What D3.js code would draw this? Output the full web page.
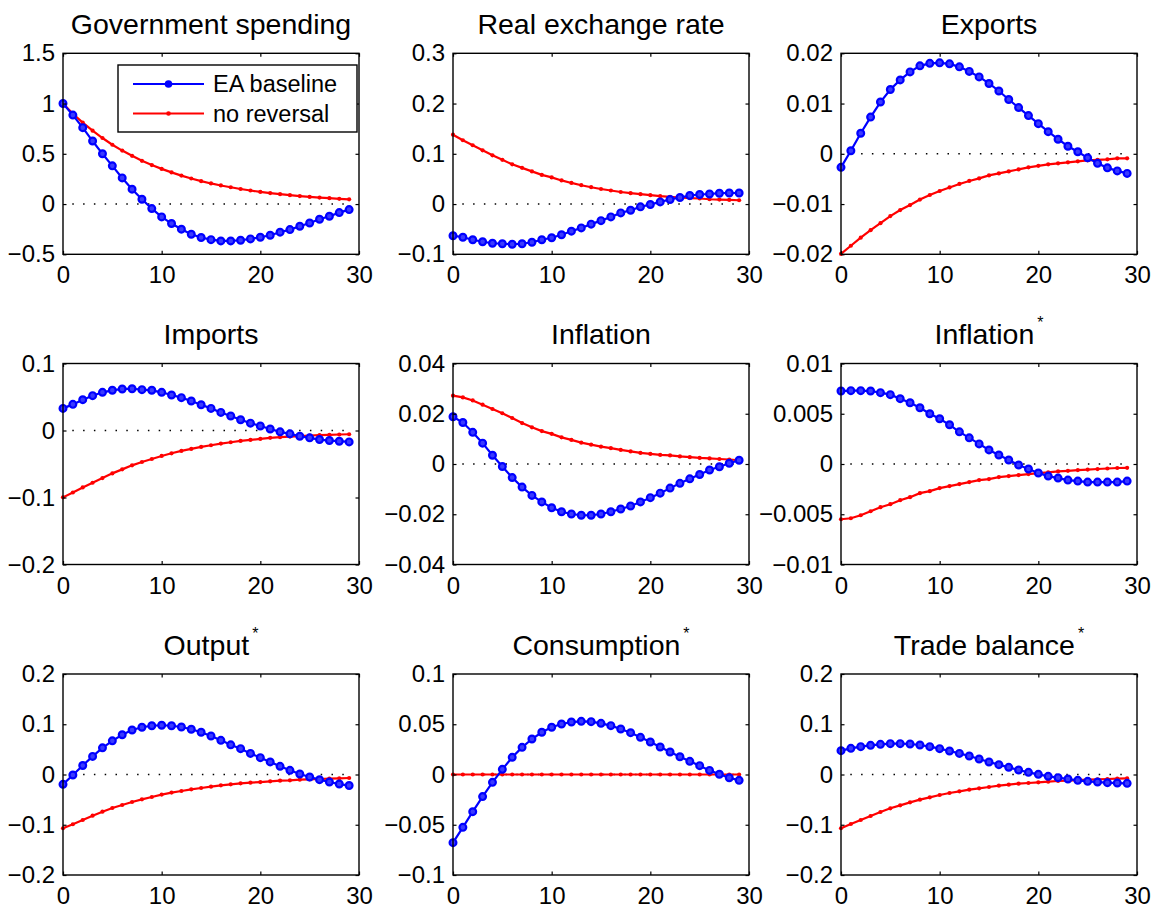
<!DOCTYPE html>
<html>
<head>
<meta charset="utf-8">
<script src="https://cdn.jsdelivr.net/npm/d3@7"></script>
<style>
  html, body { margin: 0; padding: 0; background: #fff; }
  svg { display: block; }
  text { font-family: "Liberation Sans", Arial, Helvetica, sans-serif; fill: #000; }
</style>
</head>
<body>
<svg id="chart" width="1156" height="910"></svg>
<script>
// Quarters after the shock
const periods = [0,1,2,3,4,5,6,7,8,9,10,11,12,13,14,15,16,17,18,19,20,21,22,23,24,25,26,27,28,29];
const xTicks = [0, 10, 20, 30];

const seriesNames = ["EA baseline", "no reversal"];

// Government spending
const govBaseline = [1.0,0.885,0.76,0.627,0.5,0.38,0.26,0.148,0.048,-0.045,-0.128,-0.194,-0.25,-0.30,-0.333,-0.354,-0.367,-0.367,-0.36,-0.347,-0.33,-0.31,-0.28,-0.254,-0.221,-0.188,-0.151,-0.121,-0.085,-0.055];
const govNoReversal = [1.0,0.898,0.81,0.73,0.657,0.59,0.532,0.48,0.43,0.388,0.35,0.315,0.283,0.254,0.228,0.205,0.185,0.167,0.15,0.135,0.121,0.109,0.098,0.088,0.079,0.071,0.064,0.058,0.052,0.047];
// Real exchange rate
const rerBaseline = [-0.063,-0.066,-0.071,-0.075,-0.078,-0.079,-0.080,-0.079,-0.076,-0.071,-0.067,-0.061,-0.054,-0.0475,-0.040,-0.033,-0.0256,-0.0176,-0.0123,-0.0056,-0.001,0.0043,0.009,0.013,0.017,0.019,0.020,0.0216,0.022,0.022];
const rerNoReversal = [0.138,0.127,0.117,0.107,0.097,0.088,0.079,0.072,0.065,0.058,0.053,0.047,0.042,0.0375,0.0335,0.030,0.027,0.024,0.0216,0.0196,0.0176,0.0156,0.0143,0.013,0.0116,0.011,0.0096,0.009,0.0083,0.0076];
// Exports
const expBaseline = [-0.0027,0.0006,0.0041,0.0073,0.0103,0.0128,0.0147,0.0163,0.0175,0.018,0.0181,0.0179,0.0173,0.0164,0.0153,0.014,0.0125,0.0108,0.0092,0.0076,0.006,0.0044,0.0029,0.0015,0.0004,-0.0008,-0.0019,-0.0028,-0.0034,-0.0039];
const expNoReversal = [-0.0199,-0.0183,-0.0167,-0.0152,-0.0138,-0.0124,-0.0112,-0.0102,-0.0091,-0.0082,-0.0074,-0.0067,-0.006,-0.0054,-0.0049,-0.0043,-0.0039,-0.0035,-0.0031,-0.0027,-0.0024,-0.0021,-0.0019,-0.0017,-0.0015,-0.0013,-0.0012,-0.0011,-0.0009,-0.0009];
// Imports
const impBaseline = [0.033,0.039,0.046,0.052,0.057,0.06,0.062,0.0623,0.061,0.06,0.057,0.053,0.049,0.044,0.0385,0.033,0.027,0.0216,0.016,0.011,0.0068,0.0023,-0.002,-0.005,-0.0086,-0.011,-0.0135,-0.015,-0.016,-0.017];
const impNoReversal = [-0.0998,-0.0925,-0.085,-0.078,-0.071,-0.064,-0.058,-0.052,-0.047,-0.0425,-0.038,-0.034,-0.0305,-0.0275,-0.0245,-0.022,-0.0195,-0.0175,-0.0155,-0.014,-0.0125,-0.011,-0.010,-0.009,-0.0085,-0.0075,-0.007,-0.0065,-0.006,-0.0056];
// Inflation
const infBaseline = [0.0188,0.0165,0.0126,0.0083,0.0035,-0.001,-0.0054,-0.0092,-0.0125,-0.0151,-0.0174,-0.019,-0.0199,-0.0204,-0.0204,-0.0199,-0.019,-0.0179,-0.0167,-0.0151,-0.0134,-0.0116,-0.0096,-0.0077,-0.0059,-0.0042,-0.0024,-0.0011,0.0003,0.0015];
const infNoReversal = [0.0272,0.0265,0.0253,0.0236,0.0219,0.0202,0.0183,0.0163,0.0146,0.0131,0.012,0.0106,0.0096,0.0085,0.0077,0.0069,0.0063,0.0056,0.005,0.0044,0.004,0.0036,0.0034,0.003,0.0027,0.0024,0.0022,0.002,0.0018,0.0015];
// Foreign inflation
const infStarBaseline = [0.00726,0.0073,0.0073,0.00726,0.0071,0.0069,0.0065,0.0061,0.0056,0.005,0.0045,0.0039,0.0032,0.0026,0.002,0.0014,0.0009,0.0004,-0.0001,-0.0005,-0.0009,-0.0012,-0.0014,-0.0016,-0.0017,-0.0018,-0.0018,-0.0018,-0.0018,-0.0017];
const infStarNoReversal = [-0.0055,-0.0054,-0.0051,-0.0047,-0.0043,-0.004,-0.0036,-0.0033,-0.0029,-0.0027,-0.0024,-0.0022,-0.002,-0.0018,-0.0016,-0.0015,-0.0013,-0.0012,-0.0011,-0.001,-0.0009,-0.00084,-0.00074,-0.00068,-0.0006,-0.00055,-0.0005,-0.00045,-0.0004,-0.00038];
// Foreign output
const outStarBaseline = [-0.0196,-0.001,0.018,0.036,0.053,0.067,0.079,0.0886,0.094,0.097,0.098,0.097,0.0945,0.09,0.084,0.0766,0.068,0.059,0.0514,0.042,0.0335,0.025,0.0163,0.0083,0.001,-0.005,-0.0103,-0.015,-0.019,-0.022];
const outStarNoReversal = [-0.107,-0.099,-0.0905,-0.082,-0.074,-0.0667,-0.0607,-0.0547,-0.0494,-0.0448,-0.040,-0.036,-0.0328,-0.0295,-0.0269,-0.0242,-0.0216,-0.0196,-0.0176,-0.0163,-0.015,-0.0136,-0.0123,-0.0116,-0.0103,-0.0096,-0.009,-0.0083,-0.0076,-0.007];
// Foreign consumption
const consStarBaseline = [-0.0678,-0.0526,-0.037,-0.022,-0.0078,0.0051,0.0171,0.027,0.0353,0.042,0.047,0.0502,0.0522,0.0529,0.0526,0.0509,0.0486,0.0453,0.0416,0.037,0.0323,0.0274,0.0224,0.0177,0.0131,0.0088,0.0041,0.0002,-0.0032,-0.0058];
const consStarNoReversal = [0,0,0,0,0,0,0,0,0,0,0,0,0,0,0,0,0,0,0,0,0,0,0,0,0,0,0,0,0,0];
// Foreign trade balance
const tbStarBaseline = [0.0474,0.052,0.0554,0.058,0.06,0.0614,0.0614,0.0607,0.0587,0.0554,0.0514,0.0468,0.042,0.0368,0.0308,0.0249,0.0196,0.0143,0.009,0.0043,0.0003,-0.0036,-0.0063,-0.009,-0.0116,-0.0136,-0.015,-0.0163,-0.017,-0.0176];
const tbStarNoReversal = [-0.107,-0.0985,-0.0905,-0.0826,-0.0746,-0.0673,-0.0614,-0.0554,-0.05,-0.0454,-0.0408,-0.0368,-0.0335,-0.0302,-0.0275,-0.0249,-0.0222,-0.0202,-0.0182,-0.0169,-0.0156,-0.0143,-0.0129,-0.0123,-0.011,-0.0103,-0.0096,-0.009,-0.0083,-0.0076];

// Panel titles (a trailing star is drawn as a superscript)
const panelTitles = ["Government spending", "Real exchange rate", "Exports",
                     "Imports", "Inflation", "Inflation*",
                     "Output*", "Consumption*", "Trade balance*"];

// Y tick values per panel
const yTicksGov = [-0.5, 0, 0.5, 1, 1.5];
const yTicksRer = [-0.1, 0, 0.1, 0.2, 0.3];
const yTicksExp = [-0.02, -0.01, 0, 0.01, 0.02];
const yTicksImp = [-0.2, -0.1, 0, 0.1];
const yTicksInf = [-0.04, -0.02, 0, 0.02, 0.04];
const yTicksInfStar = [-0.01, -0.005, 0, 0.005, 0.01];
const yTicksOutStar = [-0.2, -0.1, 0, 0.1, 0.2];
const yTicksConsStar = [-0.1, -0.05, 0, 0.05, 0.1];
const yTicksTbStar = [-0.2, -0.1, 0, 0.1, 0.2];

const panels = [
  { title: panelTitles[0], base: govBaseline, alt: govNoReversal, ticks: yTicksGov, legend: true },
  { title: panelTitles[1], base: rerBaseline, alt: rerNoReversal, ticks: yTicksRer },
  { title: panelTitles[2], base: expBaseline, alt: expNoReversal, ticks: yTicksExp },
  { title: panelTitles[3], base: impBaseline, alt: impNoReversal, ticks: yTicksImp },
  { title: panelTitles[4], base: infBaseline, alt: infNoReversal, ticks: yTicksInf },
  { title: panelTitles[5], base: infStarBaseline, alt: infStarNoReversal, ticks: yTicksInfStar },
  { title: panelTitles[6], base: outStarBaseline, alt: outStarNoReversal, ticks: yTicksOutStar },
  { title: panelTitles[7], base: consStarBaseline, alt: consStarNoReversal, ticks: yTicksConsStar },
  { title: panelTitles[8], base: tbStarBaseline, alt: tbStarNoReversal, ticks: yTicksTbStar }
];

// Layout of the 3x3 grid
const colLeft = [63, 453, 841];
const rowTop = [53.3, 363.5, 674];
const plotW = 296;
const plotH = 201;

const BLUE = "#0000ff";
const RED = "#ff0000";
const tickFont = 24;
const FONT = "'Liberation Sans', Arial, Helvetica, sans-serif";

const svg = d3.select("#chart");

const fmt = v => String(v).replace("-", "\u2212");

panels.forEach((p, i) => {
  const col = i % 3, row = Math.floor(i / 3);
  const g = svg.append("g").attr("transform", `translate(${colLeft[col]},${rowTop[row]})`);

  const x = d3.scaleLinear().domain([xTicks[0], xTicks[xTicks.length - 1]]).range([0, plotW]);
  const y = d3.scaleLinear().domain([p.ticks[0], p.ticks[p.ticks.length - 1]]).range([plotH, 0]);

  // zero reference line (dotted)
  g.append("line")
    .attr("x1", x(periods[0])).attr("x2", x(periods[periods.length - 1]))
    .attr("y1", y(0)).attr("y2", y(0))
    .attr("stroke", "#000").attr("stroke-width", 1.5)
    .attr("stroke-dasharray", "0 9.3 1.5 0");

  const line = d3.line().x((d, j) => x(periods[j])).y(d => y(d));

  // no reversal: red line with dot markers
  g.append("path").datum(p.alt)
    .attr("d", line).attr("fill", "none")
    .attr("stroke", RED).attr("stroke-width", 2.2);
  g.selectAll(".altdot").data(p.alt).join("circle")
    .attr("cx", (d, j) => x(periods[j])).attr("cy", d => y(d))
    .attr("r", 2.1).attr("fill", RED);

  // EA baseline: blue line with circle markers
  g.append("path").datum(p.base)
    .attr("d", line).attr("fill", "none")
    .attr("stroke", BLUE).attr("stroke-width", 2.2);
  g.selectAll(".basedot").data(p.base).join("circle")
    .attr("cx", (d, j) => x(periods[j])).attr("cy", d => y(d))
    .attr("r", 3.4).attr("fill", "#3a3aff")
    .attr("stroke", BLUE).attr("stroke-width", 2.2);

  // axes, ticks pointing inward on all four sides
  const axL = d3.axisLeft(y).tickValues(p.ticks).tickSize(-3.5).tickPadding(8).tickFormat(fmt);
  const axR = d3.axisRight(y).tickValues(p.ticks).tickSize(-3.5).tickFormat("");
  const axB = d3.axisBottom(x).tickValues(xTicks).tickSize(-3.5).tickPadding(12).tickFormat(d3.format("d"));
  const axT = d3.axisTop(x).tickValues(xTicks).tickSize(-3.5).tickFormat("");

  const styleAxis = sel => {
    sel.select(".domain").remove();
    sel.attr("font-size", null).attr("font-family", null);
    sel.selectAll(".tick line").attr("stroke", "#000").attr("stroke-width", 1.2);
    sel.selectAll("text").style("font-size", tickFont + "px")
      .style("font-family", FONT).attr("fill", "#000");
  };
  g.append("g").call(axL).call(styleAxis);
  g.append("g").attr("transform", `translate(${plotW},0)`).call(axR).call(styleAxis);
  g.append("g").attr("transform", `translate(0,${plotH})`).call(axB).call(styleAxis);
  g.append("g").call(axT).call(styleAxis);

  // frame
  g.append("rect").attr("width", plotW).attr("height", plotH)
    .attr("fill", "none").attr("stroke", "#000").attr("stroke-width", 1.4);

  // title
  const starred = p.title.endsWith("*");
  const t = g.append("text")
    .attr("x", plotW / 2).attr("y", -19.5)
    .attr("text-anchor", "middle")
    .style("font-size", "28.5px").style("font-family", FONT);
  t.append("tspan").text(starred ? p.title.slice(0, -1) : p.title);
  if (starred) {
    t.append("tspan").attr("dx", 3).attr("dy", -16).style("font-size", "16px").text("*");
  }

  // legend
  if (p.legend) {
    const lg = g.append("g").attr("transform", `translate(${118 - colLeft[0]},${65 - rowTop[0]})`);
    lg.append("rect").attr("width", 239).attr("height", 67)
      .attr("fill", "#fff").attr("stroke", "#000").attr("stroke-width", 1.4);
    const rows = [
      { name: seriesNames[0], color: BLUE, r: 3.8, y: 19 },
      { name: seriesNames[1], color: RED, r: 2.3, y: 48.5 }
    ];
    rows.forEach(rw => {
      lg.append("line").attr("x1", 15).attr("x2", 86).attr("y1", rw.y).attr("y2", rw.y)
        .attr("stroke", rw.color).attr("stroke-width", 2.2);
      lg.append("circle").attr("cx", 50.5).attr("cy", rw.y).attr("r", rw.r).attr("fill", rw.color);
      lg.append("text").attr("x", 95).attr("y", rw.y).attr("dy", "0.35em")
        .style("font-size", "23.5px").style("font-family", FONT).text(rw.name);
    });
  }
});
</script>
</body>
</html>
